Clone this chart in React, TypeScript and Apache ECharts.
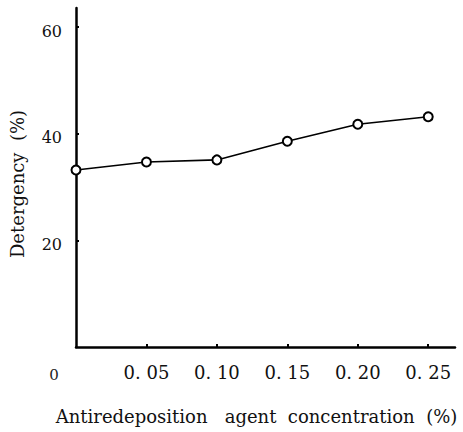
import React, { useEffect, useRef } from "react";
import * as echarts from "echarts";

const concentration = [0, 0.05, 0.1, 0.15, 0.2, 0.25];
const detergency = [33.2, 34.7, 35.1, 38.6, 41.8, 43.2];
const xTicks = [0, 0.05, 0.1, 0.15, 0.2, 0.25];
const xTickLabels = ["0", "0. 05", "0. 10", "0. 15", "0. 20", "0. 25"];
const yTicks = [20, 40, 60];
const yTickLabels = ["20", "40", "60"];

export default function App() {
  const ref = useRef<HTMLDivElement>(null);
  useEffect(() => {
    if (!ref.current) return;
    const chart = echarts.init(ref.current, undefined, { renderer: "svg" });
    const font = "DejaVu Serif";
    chart.setOption({
      animation: false,
      backgroundColor: "#ffffff",
      grid: { left: 73, right: 8, top: 8, bottom: 85 },
      xAxis: {
        type: "value",
        min: 0,
        max: 0.269,
        name: "Antiredeposition   agent  concentration  (%)",
        nameLocation: "middle",
        nameGap: 60,
        nameTextStyle: { fontFamily: font, fontSize: 18, color: "#111", padding: [0, 18, 0, 0] },
        splitLine: { show: false },
        axisLine: { lineStyle: { color: "#000", width: 2.5 } },
        axisTick: {
          show: true,
          inside: true,
          length: 3,
          customValues: xTicks.slice(1),
          lineStyle: { color: "#000", width: 2 },
        },
        axisLabel: {
          customValues: xTicks,
          margin: 16,
          fontFamily: font,
          fontSize: 18,
          color: "#111",
          formatter: (v: number) => {
            const i = xTicks.findIndex((t) => Math.abs(t - v) < 1e-9);
            const s = i >= 0 ? xTickLabels[i] : "";
            return i === 0 ? "{z|" + s + "}" : s;
          },
          rich: { z: { fontFamily: font, fontSize: 15, color: "#222", padding: [4, 44, 0, 0] } },
        },
      },
      yAxis: {
        type: "value",
        min: 0,
        max: 63.6,
        name: "Detergency  (%)",
        nameLocation: "middle",
        nameGap: 50,
        nameTextStyle: { fontFamily: font, fontSize: 18, color: "#111", padding: [0, 13, 0, 0] },
        splitLine: { show: false },
        axisLine: { show: true, lineStyle: { color: "#000", width: 2.5 } },
        axisTick: {
          show: true,
          inside: true,
          length: 3,
          customValues: yTicks,
          lineStyle: { color: "#000", width: 2 },
        },
        axisLabel: {
          customValues: yTicks,
          margin: 14,
          fontFamily: font,
          fontSize: 16,
          color: "#111",
          formatter: (v: number) => {
            const i = yTicks.indexOf(Math.round(v));
            return i >= 0 ? "{a|" + yTickLabels[i] + "}" : "";
          },
          rich: { a: { fontFamily: font, fontSize: 16, color: "#111", padding: [8, 0, 0, 0] } },
        },
      },
      series: [
        {
          type: "line",
          data: concentration.map((c, i) => [c, detergency[i]]),
          symbol: "circle",
          symbolSize: 9,
          lineStyle: { color: "#000", width: 1.6 },
          itemStyle: { color: "#fff", borderColor: "#000", borderWidth: 2 },
          z: 5,
        },
      ],
    });
    return () => chart.dispose();
  }, []);
  return (
    <div
      ref={ref}
      style={{ position: "fixed", left: 0, top: 0, width: 463, height: 432 }}
    />
  );
}
